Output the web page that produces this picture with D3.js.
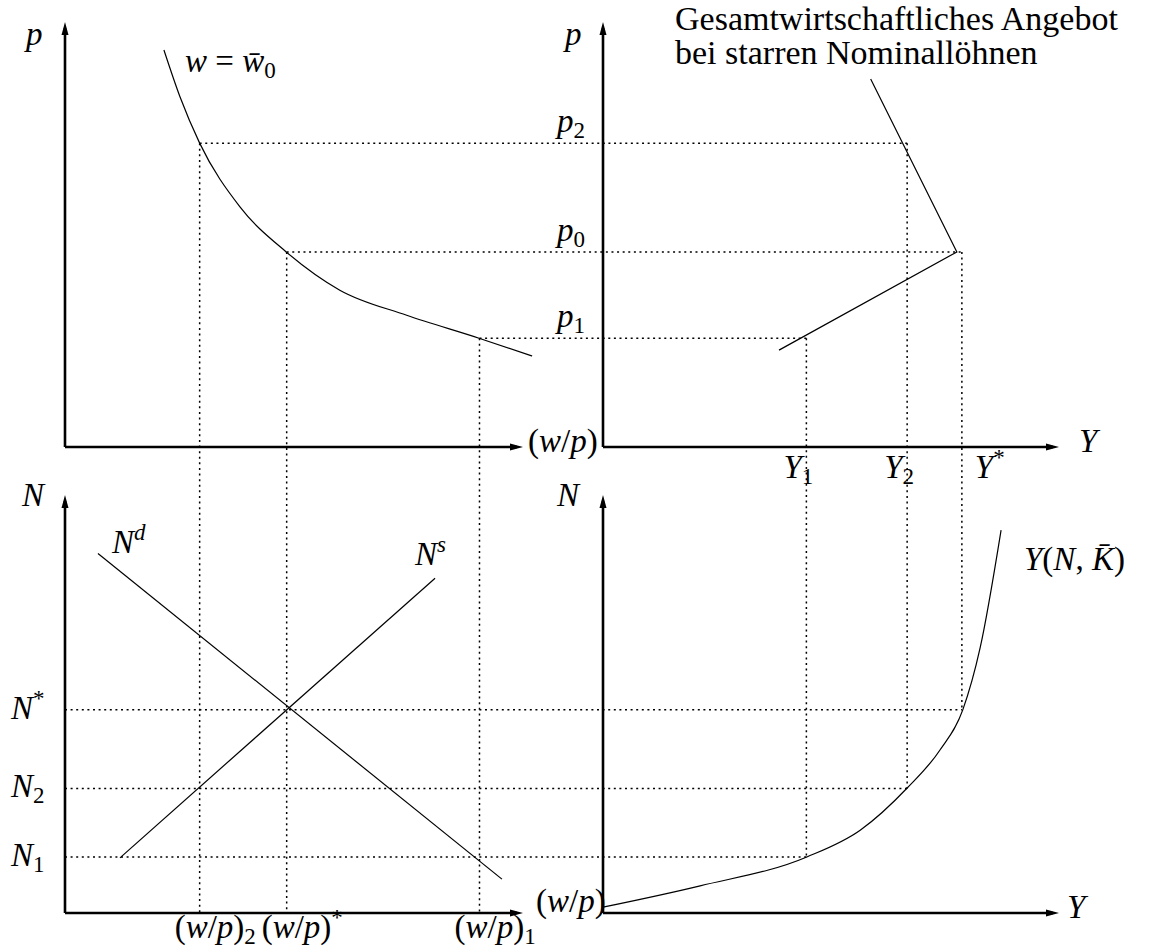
<!DOCTYPE html>
<html>
<head>
<meta charset="utf-8">
<script src="https://cdn.jsdelivr.net/npm/d3@7"></script>
<style>
  body { margin: 0; background: #fff; }
</style>
</head>
<body>
<div id="chart"></div>
<script>
// three situations: 2 = high price, */0 = equilibrium, 1 = low price
const wpValues = [29.4, 48.4, 90.5];   // real wage (w/p)
const wpMarks = ["sub:2", "sup:*", "sub:1"];
const pValues = [71.5, 45.9, 25.6];    // price level p
const pMarks = ["sub:2", "sub:0", "sub:1"];
const yValues = [66.7, 78.7, 44.6];    // output Y
const yMarks = ["sub:2", "sup:*", "sub:1"];
const nValues = [29.8, 48.6, 13.4];    // employment N
const nMarks = ["sub:2", "sup:*", "sub:1"];

// w = w0 bar: p against w/p
const wageCurveWP = [21.6, 25.1, 29.4, 38.2, 48.3, 60.0, 74.6, 90.4, 102.0];
const wageCurveP = [93.4, 82.4, 71.5, 56.5, 45.9, 36.9, 31.0, 25.6, 21.4];

// aggregate supply with rigid nominal wages
const supplyY = [38.6, 77.6, 58.7];
const supplyP = [22.8, 45.9, 86.6];

// labour demand / supply
const demandWP = [7.2, 95.4];
const demandN = [86.0, 8.1];
const laborSupplyWP = [12.0, 80.8];
const laborSupplyN = [13.2, 80.1];

// production function Y(N, K)
const prodY = [0, 21.3, 44.7, 56.4, 66.7, 73.9, 78.9, 82.7, 87.3];
const prodN = [1.4, 6.5, 13.4, 19.8, 29.9, 39.0, 48.6, 63.4, 91.6];

const width = 1149, height = 952;
const serif = '"Liberation Serif", "DejaVu Serif", serif';

const svg = d3.select("#chart").append("svg")
  .attr("width", width)
  .attr("height", height)
  .style("font-family", serif);

const xW = d3.scaleLinear().domain([0, 100]).range([65, 523]);
const xY = d3.scaleLinear().domain([0, 100]).range([603, 1059]);
const yP = d3.scaleLinear().domain([0, 100]).range([447, 22]);
const yN = d3.scaleLinear().domain([0, 100]).range([913, 495]);

svg.append("defs").append("marker")
  .attr("id", "arrow")
  .attr("viewBox", "0 -5 13 10")
  .attr("refX", 7)
  .attr("refY", 0)
  .attr("markerWidth", 13)
  .attr("markerHeight", 10)
  .attr("markerUnits", "userSpaceOnUse")
  .attr("orient", "auto")
  .append("path")
  .attr("d", "M0,-3.5L13,0L0,3.5Z")
  .attr("fill", "#000");

// dotted guide lines
const guides = svg.append("g")
  .attr("stroke", "#000")
  .attr("stroke-width", 1.5)
  .attr("stroke-dasharray", "2,3.6");

function guide(x1, y1, x2, y2) {
  guides.append("line")
    .attr("x1", x1).attr("y1", y1)
    .attr("x2", x2).attr("y2", y2);
}

wpValues.forEach((wp, i) => {
  guide(xW(wp), yP(pValues[i]), xY(yValues[i]), yP(pValues[i]));
  guide(xW(wp), yP(pValues[i]), xW(wp), yN(0));
  guide(xY(yValues[i]), yP(pValues[i]), xY(yValues[i]), yN(nValues[i]));
  guide(xW(0), yN(nValues[i]), xY(yValues[i]), yN(nValues[i]));
});

// curves
const curves = svg.append("g")
  .attr("fill", "none")
  .attr("stroke", "#000")
  .attr("stroke-width", 1.2);

const smooth = d3.line().curve(d3.curveMonotoneX);
const straight = d3.line();

curves.append("path")
  .attr("d", smooth(wageCurveWP.map((v, i) => [xW(v), yP(wageCurveP[i])])));
curves.append("path")
  .attr("d", straight(supplyY.map((v, i) => [xY(v), yP(supplyP[i])])));
curves.append("path")
  .attr("d", straight(demandWP.map((v, i) => [xW(v), yN(demandN[i])])));
curves.append("path")
  .attr("d", straight(laborSupplyWP.map((v, i) => [xW(v), yN(laborSupplyN[i])])));
curves.append("path")
  .attr("d", smooth(prodY.map((v, i) => [xY(v), yN(prodN[i])])));

// axes with arrow heads
const axes = svg.append("g")
  .attr("stroke", "#000")
  .attr("stroke-width", 2.6);

function axis(x1, y1, x2, y2) {
  const len = Math.hypot(x2 - x1, y2 - y1);
  const ex = x2 - (x2 - x1) / len * 6;
  const ey = y2 - (y2 - y1) / len * 6;
  axes.append("line")
    .attr("x1", x1).attr("y1", y1)
    .attr("x2", ex).attr("y2", ey)
    .attr("marker-end", "url(#arrow)");
}

axis(xW(0), yP(0), xW(0), yP(100));
axis(xW(0), yP(0), xW(100), yP(0));
axis(xY(0), yP(0), xY(0), yP(100));
axis(xY(0), yP(0), xY(100), yP(0));
axis(xW(0), yN(0), xW(0), yN(100));
axis(xW(0), yN(0), xW(100), yN(0));
axis(xY(0), yN(0), xY(0), yN(100));
axis(xY(0), yN(0), xY(100), yN(0));

// math labels: letters italic, the rest upright, optional sub/superscript
const labels = svg.append("g")
  .attr("font-size", 33)
  .attr("font-family", serif);

function mathLabel(x, y, body, mark) {
  const t = labels.append("text").attr("x", x).attr("y", y);
  const runs = body.match(/[A-Za-z\u0304]+|[^A-Za-z\u0304]+/g);
  runs.forEach(r => {
    t.append("tspan")
      .attr("font-style", /[A-Za-z]/.test(r) ? "italic" : "normal")
      .text(r);
  });
  if (mark) {
    const [kind, s] = mark.split(":");
    t.append("tspan")
      .attr("font-size", 23)
      .attr("font-style", /[A-Za-z]/.test(s) ? "italic" : "normal")
      .attr("dy", kind === "sub" ? 6 : -13)
      .text(s);
  }
  return t;
}

// axis names
mathLabel(26, 45, "p");
mathLabel(xY(0) - 38, 45, "p");
mathLabel(528, 452, "(w/p)");
mathLabel(1079, 452, "Y");
mathLabel(22, 506, "N");
mathLabel(xY(0) - 46, 506, "N");
mathLabel(536, 912, "(w/p)");
mathLabel(1067, 918, "Y");

// level labels
pValues.forEach((v, i) => mathLabel(557, yP(v) - 11, "p", pMarks[i]));
yValues.forEach((v, i) => {
  const dx = yMarks[i].startsWith("sup") ? 13 : -23;
  mathLabel(xY(v) + dx, 478, "Y", yMarks[i]);
});
nValues.forEach((v, i) => mathLabel(11, yN(v) + 9, "N", nMarks[i]));
wpValues.forEach((v, i) => mathLabel(xW(v) - 25, 938, "(w/p)", wpMarks[i]));

// curve names
mathLabel(185, 72, "w = w\u0304", "sub:0");
mathLabel(112, 553, "N", "sup:d");
mathLabel(415, 565, "N", "sup:s");
mathLabel(1024, 570, "Y(N, K\u0304)");

// annotation of the supply curve
const note = svg.append("text")
  .attr("font-family", serif)
  .attr("font-size", 34)
  .attr("x", 675)
  .attr("y", 30);
note.append("tspan").attr("x", 675).text("Gesamtwirtschaftliches Angebot");
note.append("tspan").attr("x", 675).attr("dy", 34).text("bei starren Nominallöhnen");
</script>
</body>
</html>
